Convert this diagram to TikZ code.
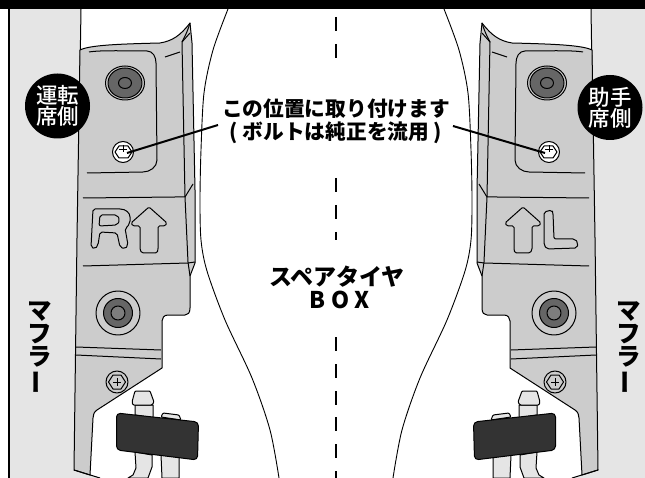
\documentclass[tikz,border=0pt]{standalone}
\usepackage{fontspec}
\usepackage{graphicx}
\newfontfamily\jpfont{Noto Sans CJK JP}
\newfontfamily\jpmedium{Noto Sans CJK JP Medium}
\newfontfamily\jpwide{Noto Sans CJK JP}[LetterSpace=24]
\definecolor{mufflergray}{HTML}{E5E5E5}
\definecolor{plategray}{HTML}{CCCCCC}
\definecolor{boltgray}{HTML}{666666}
\definecolor{padgray}{HTML}{333333}
\tikzset{
	outline/.style={draw=black,line width=1pt,line join=round},
	caption/.style={font=\jpfont\bfseries\fontsize{20.7}{23}\selectfont,align=center,inner sep=0pt},
	badge/.style={circle,fill=black,text=white,minimum size=65pt,inner sep=0pt,align=center,font=\jpmedium\fontsize{21.5}{21}\selectfont},
	side/.style={font=\jpfont\bfseries\fontsize{24.5}{23}\selectfont,align=center,inner sep=0pt},
	leader/.style={line width=2pt}
}
\newcommand{\sidepart}{
		\draw[line width=0.9pt]plot[smooth]coordinates{(228,9)(213,50)(204,93)(201,150)(200,200)(201,240)(207,271)(225,320)(252,378)(270,430)(279,478)};
		\fill[mufflergray](9,9)--(81,9)--(79,133)--(77,238)--(74,470)--(100,478)--(9,478)--cycle;
		\draw[outline](81,9)--(79,133);
		\draw[outline,fill=plategray](80,50)..controls(90,45)and(120,44)..(160,43)..controls(172,41)and(180,36)..(190,23)--(192,43)--(195,190)--(195,263)--(190,276)--(190,308)..controls(190,313)and(188,315)..(185,315)--(168,315)..controls(164,315)and(162,318)..(162,321)--(162,368)--(97,410)..controls(94,412)and(93,415)..(93,418)--(90,475)--(74,470)--(77,238)--cycle;
		\draw[outline](74,470)--(100,478);
		\draw[outline](190,23)..controls(187,33)and(184,38)..(182,42)--(185,197)--(188,262)--(190,276);
		\draw[outline](182,42)--(190,33);
		\draw[outline](165,57)--(180,52);
		\draw[outline](89,52)..controls(100,50)and(130,51)..(147,51)..controls(153,51)and(156,57)..(156,63)--(157,160)..controls(157,167)and(150,172)..(143,172)--(87,173);
		\draw[outline](83,198)--(175,197)--(185,197)--(193,184);
		\draw[outline](83,266)--(188,263)--(195,262);
		\draw[outline](76,347)--(161,350);
		\draw[outline](76,355)--(161,359);
		\draw[outline,fill=plategray](125,83)ellipse(19.5 and 17);
		\draw[outline,fill=boltgray](125,83)ellipse(17 and 15);
		\draw[outline](125,83)ellipse(6.5 and 5.5);
		\draw[outline,fill=white](123,152)circle(10.5);
		\draw[outline,fill=white](115,152)--(119,146)--(128,146)--(132,152)--(128,158)--(119,158)--cycle;
		\draw[line width=0.7pt](119,149)--(127,149)(123,145.5)--(123,152.5);
		\draw[outline](118,313)circle(22);
		\draw[outline,fill=boltgray](118,313)circle(14.5);
		\draw[outline,fill=boltgray!85!white](118,313)circle(7);
		\draw[outline](117,382)circle(11);
		\draw[outline](108.5,382)--(113,375)--(121,375)--(125.5,382)--(121,389)--(113,389)--cycle;
		\draw[line width=0.7pt](113,382)--(121,382)(117,378)--(117,386);
		\draw[outline,rounded corners=1.5pt](149,207)--(131,223)--(133,226)--(140,226)--(140,250)--(142,253)--(157,253)--(158,250)--(158,226)--(165,226)--(167,223)--cycle;
		\draw[outline,fill=mufflergray](135,405)--(135,415)--(153,418)--(153,405)--cycle;
		\draw[outline,fill=mufflergray,rounded corners=1pt](135,391)--(150,391)--(154,402)--(152,405)--(133,405)--(132,402)--cycle;
		\draw[outline,fill=mufflergray,rounded corners=1pt](161,417)--(163,413)--(179,415)--(181,420)--cycle;
		\draw[outline,fill=mufflergray](135,452)--(136,468)--(133,475)--(128,478)--(148,478)--(152,467)--(152,455)--cycle;
		\draw[outline,fill=mufflergray](161,455)--(162,478)--(179,478)--(179,457)--cycle;
		\draw[outline,fill=padgray,rounded corners=4pt](116.5,413)--(198.5,422)--(197.5,460)--(116.5,450)--cycle;
}

\begin{document}
\begin{tikzpicture}[x=1pt,y=-1pt]
		\clip(0,0)rectangle(645,478);
		\fill[white](0,0)rectangle(645,478);
		\sidepart
		\begin{scope}[shift={(672,0)},xscale=-1]
			\sidepart
		\end{scope}
		\fill[black](0,0)rectangle(645,9);
		\fill[black](7.5,0)rectangle(9.8,478);
		\foreach \dashy in {17,44,178,205,337,364,391,417,444,471}
			\draw[line width=2.4pt](336,\dashy)--(336,\dashy+14);
		\draw[line width=2.4pt](336,232)--(336,240);
		\draw[outline,rounded corners=2pt](93,209)--(118,209)..controls(126,209)and(130,213)..(130,219)..controls(130,224)and(127,227)..(125,228)--(128,245)--(125,249)--(120,247)--(117,233)--(100,232)--(98,245)--(95,249)--(91,247)--cycle;
		\draw[outline,rounded corners=2pt](100,215)--(117,215)--(120,220)--(117,225)--(99,226)--cycle;
		\draw[outline,rounded corners=2pt](544,212)--(552,210)--(553,213)--(554,239)--(575,239)--(578,243)--(577,248)--(547,249)--(544,245)--cycle;
		\node[caption](mountnote)at(336,121){この位置に取り付けます\\( ボルトは純正を流用 )};
		\node[caption,font=\jpfont\bfseries\fontsize{23}{23}\selectfont](boxname)at(337,277){スペアタイヤ};
		\node[caption,font=\jpwide\bfseries\fontsize{23}{23}\selectfont](boxword)at(339.5,300){BOX};
		\node[badge](driverbadge)at(57.5,106){運転\\席側};
		\node[badge](passengerbadge)at(610,107.5){助手\\席側};
		\node[side](leftmuffler)at(40,348){マ\\フ\\ラ\\\rotatebox[origin=c]{90}{ー}};
		\node[side](rightmuffler)at(629,348){マ\\フ\\ラ\\\rotatebox[origin=c]{90}{ー}};
		\coordinate(leftend)at(218,125);
		\coordinate(leftscrew)at(127,153);
		\coordinate(rightend)at(453,126);
		\coordinate(rightscrew)at(545,153);
		\draw[leader](leftend)--(leftscrew);
		\draw[leader](rightend)--(rightscrew);
\end{tikzpicture}
\end{document}
